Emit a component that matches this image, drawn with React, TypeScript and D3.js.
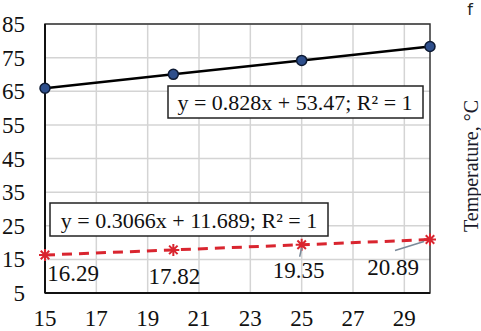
import React from "react";
import * as d3 from "d3";

const xValues = [15, 20, 25, 30];
const upperSeries = [65.89, 70.03, 74.17, 78.31];
const lowerSeries = [16.29, 17.82, 19.35, 20.89];
const xTicks = [15, 17, 19, 21, 23, 25, 27, 29];
const yTicks = [5, 15, 25, 35, 45, 55, 65, 75, 85];
const upperEquation = "y = 0.828x + 53.47; R² = 1";
const lowerEquation = "y = 0.3066x + 11.689; R² = 1";
const yAxisTitle = "Temperature, °C";
const panelLetter = "f";

const W = 481, H = 331;
const L = 45, R = 430, T = 24, B = 293;
const serif = { fontFamily: '"Liberation Serif", "DejaVu Serif", serif' };
const sans = { fontFamily: '"DejaVu Sans", sans-serif' };

export default function App() {
  const x = d3.scaleLinear().domain([15, 30]).range([L, R]);
  const y = d3.scaleLinear().domain([5, 85]).range([B, T]);
  const line = d3.line<number>().x((_, i) => x(xValues[i])).y((d) => y(d));
  const star = (cx: number, cy: number, r: number) => {
    const parts: string[] = [];
    for (let k = 0; k < 4; k++) {
      const a = (k * Math.PI) / 4;
      parts.push(`M${cx - r * Math.cos(a)},${cy - r * Math.sin(a)}L${cx + r * Math.cos(a)},${cy + r * Math.sin(a)}`);
    }
    return parts.join("");
  };
  const lowerLabelOffsets = [
    { dx: 28, dy: 26 },
    { dx: 1, dy: 34 },
    { dx: -3, dy: 33 },
    { dx: -37, dy: 35 },
  ];
  return (
    <svg width={W} height={H} style={{ position: "absolute", left: 0, top: 0, background: "#fff" }}>
      <rect x={0} y={0} width={W} height={H} fill="#fff" />
      {xTicks.map((t) => (
        <line key={"gx" + t} x1={x(t)} x2={x(t)} y1={T} y2={B} stroke="#d4d4d4" strokeWidth={1.5} />
      ))}
      {yTicks.map((t) => (
        <line key={"gy" + t} x1={L} x2={R} y1={y(t)} y2={y(t)} stroke="#d4d4d4" strokeWidth={1.5} />
      ))}
      <rect x={L} y={T} width={R - L} height={B - T} fill="none" stroke="#333" strokeWidth={1.5} />
      <line x1={L} x2={L} y1={T} y2={B} stroke="#111" strokeWidth={2} />
      <line x1={L} x2={R} y1={B} y2={B} stroke="#111" strokeWidth={2} />
      {yTicks.map((t) => (
        <text key={"ty" + t} x={L - 20} y={y(t) + 8} textAnchor="end" style={serif} fontSize={23} fill="#111">{t}</text>
      ))}
      {xTicks.map((t) => (
        <text key={"tx" + t} x={x(t)} y={326} textAnchor="middle" style={serif} fontSize={23} fill="#111">{t}</text>
      ))}
      <path d={line(upperSeries) || ""} fill="none" stroke="#000" strokeWidth={2.5} />
      {upperSeries.map((v, i) => (
        <circle key={"u" + i} cx={x(xValues[i])} cy={y(v)} r={5} fill="#2e4f8c" stroke="#0d1a33" strokeWidth={1.5} />
      ))}
      <path d={line(lowerSeries) || ""} fill="none" stroke="#d9252f" strokeWidth={3} strokeDasharray="10,7" />
      {lowerSeries.map((v, i) => (
        <path key={"l" + i} d={star(x(xValues[i]), y(v), 6)} stroke="#d9252f" strokeWidth={2} />
      ))}
      {lowerSeries.map((v, i) => {
        const o = lowerLabelOffsets[i];
        const px = x(xValues[i]);
        const py = y(v);
        return (
          <g key={"ll" + i}>
            {i === 2 && <line x1={px} y1={py + 3} x2={px - 2} y2={py + 12} stroke="#7a8a99" strokeWidth={1.5} />}
            {i === 3 && <line x1={px - 6} y1={py + 2} x2={px - 35} y2={py + 11} stroke="#7a8a99" strokeWidth={1.5} />}
            <text x={px + o.dx} y={py + o.dy} textAnchor="middle" style={serif} fontSize={23} fill="#111">{v.toFixed(2)}</text>
          </g>
        );
      })}
      <rect x={168} y={86} width={255} height={32} fill="#fff" stroke="#222" strokeWidth={1.5} />
      <text x={295} y={110} textAnchor="middle" style={serif} fontSize={22} fill="#111">{upperEquation}</text>
      <rect x={50} y={203} width={278} height={33} fill="#fff" stroke="#222" strokeWidth={1.5} />
      <text x={189} y={228} textAnchor="middle" style={serif} fontSize={22} fill="#111">{lowerEquation}</text>
      <text x={470} y={15} textAnchor="middle" style={sans} fontSize={16} fill="#222">{panelLetter}</text>
      <text transform="translate(478,166) rotate(-90)" textAnchor="middle" style={serif} fontSize={20} fill="#1a1a2a">{yAxisTitle}</text>
    </svg>
  );
}
